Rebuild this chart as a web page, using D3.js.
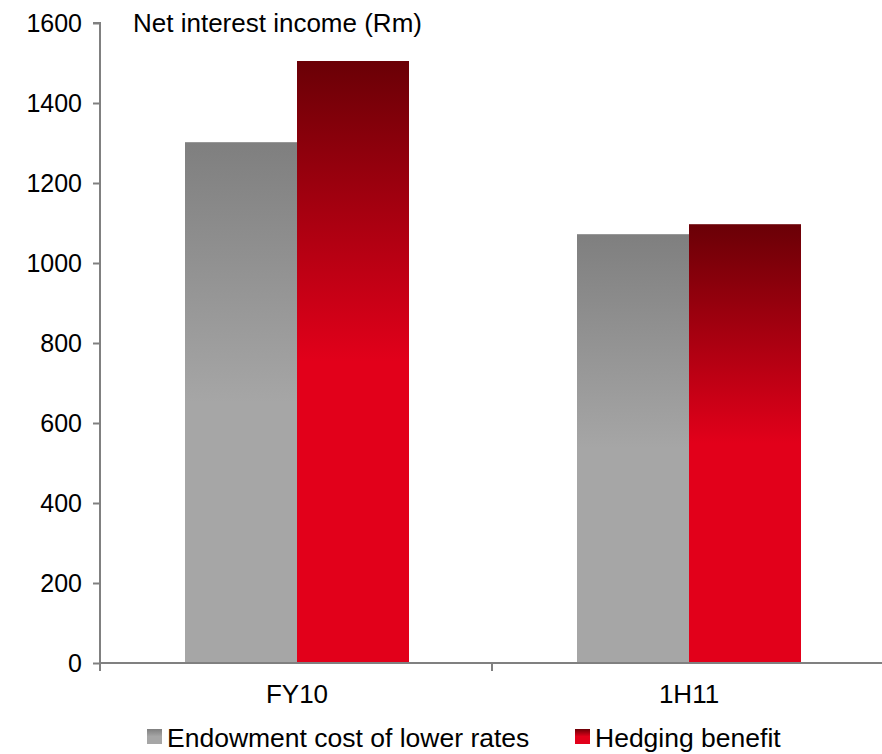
<!DOCTYPE html>
<html><head><meta charset="utf-8">
<script src="https://cdn.jsdelivr.net/npm/d3@7"></script>
<style>body{margin:0;background:#fff}svg{display:block;font-family:"Liberation Sans",Arial,sans-serif}</style>
</head><body><svg id="c" width="882" height="754"></svg>
<script>
const categories = ["FY10", "1H11"];
const seriesNames = ["Endowment cost of lower rates", "Hedging benefit"];
const endowment = [1302, 1072];
const hedging = [1505, 1097];
const yTicks = [0, 200, 400, 600, 800, 1000, 1200, 1400, 1600];
const title = "Net interest income (Rm)";

(function () {
const svg = d3.select("#c");
const defs = svg.append("defs");
function grad(id, c1, c2) {
  const g = defs.append("linearGradient").attr("id", id).attr("x1", 0).attr("y1", 0).attr("x2", 0).attr("y2", 1);
  g.append("stop").attr("offset", "0%").attr("stop-color", c1);
  g.append("stop").attr("offset", "50%").attr("stop-color", c2);
  g.append("stop").attr("offset", "100%").attr("stop-color", c2);
}
grad("gGray", "#7f7f7f", "#a6a6a6");
grad("gRed", "#6a0006", "#e2001a");

const pL = 100, pR = 884, pT = 23, pB = 663;
const y = d3.scaleLinear().domain([0, 1600]).range([pB, pT]);
const x0 = d3.scaleBand().domain(categories).range([pL, pR]).paddingInner(0).paddingOuter(0);
const x1 = d3.scaleBand().domain([0, 1]).range([0, x0.bandwidth()]).paddingInner(0).paddingOuter(0.75);

const data = categories.map((c, i) => ({c, vals: [endowment[i], hedging[i]]}));
const fills = ["url(#gGray)", "url(#gRed)"];

svg.append("g").selectAll("g.grp").data(data).join("g").attr("transform", d => `translate(${x0(d.c) + 1},0)`)
  .selectAll("rect").data(d => d.vals.map((v, k) => ({v, k}))).join("rect")
  .attr("x", d => x1(d.k)).attr("width", x1.bandwidth())
  .attr("y", d => y(d.v)).attr("height", d => pB - y(d.v))
  .attr("fill", d => fills[d.k]);

const font = "Liberation Sans, Arial, sans-serif";
const ya = svg.append("g").attr("transform", `translate(${pL},0)`)
  .call(d3.axisLeft(y).tickValues(yTicks).tickSize(7).tickPadding(11).tickFormat(d3.format("d")));
ya.select(".domain").attr("stroke", "#808080").attr("stroke-width", 2).attr("d", `M-7,${pT}H0V${pB}`);
ya.selectAll(".tick line").attr("stroke", "#808080").attr("stroke-width", 2);
ya.selectAll(".tick text").attr("font-size", 25).attr("fill", "#000").attr("font-family", font).attr("dy", "0.35em");

const xa = svg.append("g").attr("transform", `translate(0,${pB})`)
  .call(d3.axisBottom(x0).tickSize(0).tickPadding(0));
xa.select(".domain").attr("stroke", "#808080").attr("stroke-width", 2).attr("d", `M${pL},0H${pR}`);
xa.selectAll(".tick text").attr("font-size", 26).attr("fill", "#000").attr("font-family", font)
  .attr("y", 40).attr("dy", 0).attr("dx", 1);
const bounds = [pL, x0(categories[1]), pR];
xa.selectAll("line.sep").data(bounds).join("line").attr("class", "sep")
  .attr("x1", d => d).attr("x2", d => d).attr("y1", 0).attr("y2", 8)
  .attr("stroke", "#808080").attr("stroke-width", 2);

svg.append("text").attr("x", 133).attr("y", 32).attr("font-size", 26).attr("fill", "#000").attr("font-family", font).text(title);

const legX = [147, 575];
const lg = svg.append("g").selectAll("g").data(seriesNames).join("g")
  .attr("transform", (d, i) => `translate(${legX[i]},729)`);
lg.append("rect").attr("width", 15).attr("height", 15).attr("fill", (d, i) => fills[i]);
lg.append("text").attr("x", 20).attr("y", 18).attr("font-size", 26.5).attr("fill", "#000").attr("font-family", font).text(d => d);
})();
</script></body></html>
